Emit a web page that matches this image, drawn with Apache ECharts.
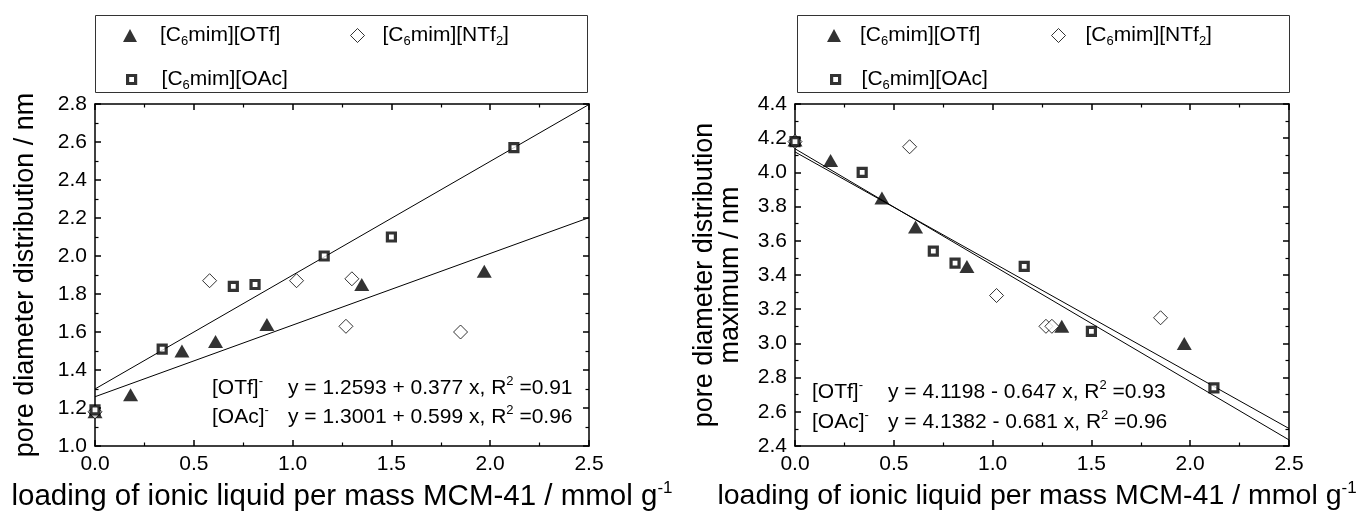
<!DOCTYPE html>
<html>
<head>
<meta charset="utf-8">
<script src="https://cdn.jsdelivr.net/npm/echarts@6/dist/echarts.min.js"></script>
<style>html,body{margin:0;padding:0;background:#fff}#c{width:1362px;height:514px}</style>
</head>
<body>
<div id="c"></div>
<script>
// ---------- data ----------
const seriesNames = ['[C6mim][OTf]', '[C6mim][NTf2]', '[C6mim][OAc]'];
const xTicks = ['0.0', '0.5', '1.0', '1.5', '2.0', '2.5'];

// left chart: pore diameter distribution / nm
const leftOTf  = [[0, 1.18], [0.18, 1.27], [0.44, 1.50], [0.61, 1.55], [0.87, 1.64], [1.35, 1.85], [1.97, 1.92]];
const leftNTf2 = [[0, 1.18], [0.58, 1.87], [1.02, 1.87], [1.27, 1.63], [1.30, 1.88], [1.85, 1.60]];
const leftOAc  = [[0, 1.19], [0.34, 1.51], [0.70, 1.84], [0.81, 1.85], [1.16, 2.00], [1.50, 2.10], [2.12, 2.57]];
const leftFitOTf = [[0, 1.2593], [2.5, 2.2018]];
const leftFitOAc = [[0, 1.3001], [2.5, 2.7976]];

// right chart: pore diameter distribution maximum / nm
const rightOTf  = [[0, 4.19], [0.18, 4.07], [0.44, 3.85], [0.61, 3.68], [0.87, 3.45], [1.35, 3.10], [1.97, 3.00]];
const rightNTf2 = [[0, 4.18], [0.58, 4.15], [1.02, 3.28], [1.27, 3.10], [1.30, 3.10], [1.85, 3.15]];
const rightOAc  = [[0, 4.18], [0.34, 4.00], [0.70, 3.54], [0.81, 3.47], [1.16, 3.45], [1.50, 3.07], [2.12, 2.74]];
const rightFitOTf = [[0, 4.1198], [2.5, 2.5023]];
const rightFitOAc = [[0, 4.1382], [2.5, 2.4357]];

// ---------- chart ----------
const FONT = '"Liberation Sans", Arial, sans-serif';
const chart = echarts.init(document.getElementById('c'), null, {renderer: 'canvas'});

const richCommon = {
  sub: {fontSize: 13, fontFamily: FONT, color: '#000', padding: [12, 0, 0, 0]},
  sup: {fontSize: 13, fontFamily: FONT, color: '#000', padding: [0, 0, 13, 0]}
};
const richTitle = {
  sup: {fontSize: 17, fontFamily: FONT, color: '#000', padding: [0, 0, 16, 0]}
};
const legendLabel = {
  '[C6mim][OTf]': '[C{sub|6}mim][OTf]',
  '[C6mim][NTf2]': '[C{sub|6}mim][NTf{sub|2}]',
  '[C6mim][OAc]': '[C{sub|6}mim][OAc]'
};

function xAxes(gridIndex, titlePad, titleSize) {
  const common = {
    type: 'value', gridIndex, min: 0, max: 2.5, interval: 0.5,
    axisLine: {show: true, onZero: false, lineStyle: {color: '#000', width: 1.5}},
    axisTick: {show: true, inside: true, length: 6, lineStyle: {color: '#000', width: 1.5}},
    minorTick: {show: true, splitNumber: 2, length: 3.5, lineStyle: {color: '#000', width: 1.2}},
    splitLine: {show: false}
  };
  return [
    Object.assign({}, common, {
      position: 'bottom',
      axisLabel: {show: true, fontSize: 21, fontFamily: FONT, color: '#000', margin: 8,
        formatter: v => xTicks[Math.round(v / 0.5)] ?? v.toFixed(1)},
      name: 'loading of ionic liquid per mass MCM-41 / mmol g{sup|-1}',
      nameLocation: 'middle', nameGap: 33,
      nameTextStyle: {fontSize: titleSize, fontFamily: FONT, color: '#000', rich: richTitle, padding: titlePad}
    }),
    Object.assign({}, common, {position: 'top', axisLabel: {show: false}})
  ];
}
function yAxes(gridIndex, min, max, name, nameGap, lineHeight) {
  const common = {
    type: 'value', gridIndex, min, max, interval: 0.2,
    axisLine: {show: true, onZero: false, lineStyle: {color: '#000', width: 1.5}},
    axisTick: {show: true, inside: true, length: 6, lineStyle: {color: '#000', width: 1.5}},
    minorTick: {show: true, splitNumber: 2, length: 3.5, lineStyle: {color: '#000', width: 1.2}},
    splitLine: {show: false}
  };
  return [
    Object.assign({}, common, {
      position: 'left',
      axisLabel: {show: true, fontSize: 21, fontFamily: FONT, color: '#000', margin: 8,
        formatter: v => v.toFixed(1)},
      name, nameLocation: 'middle', nameGap,
      nameTextStyle: {fontSize: 27, fontFamily: FONT, color: '#000', lineHeight}
    }),
    Object.assign({}, common, {position: 'right', axisLabel: {show: false}})
  ];
}

function scatter(name, data, xi, yi) {
  const styles = {
    '[C6mim][OTf]':  {symbol: 'triangle', symbolSize: [15, 13], itemStyle: {color: '#000'}},
    '[C6mim][NTf2]': {symbol: 'diamond', symbolSize: 14, itemStyle: {color: '#fff', borderColor: '#000', borderWidth: 1}},
    '[C6mim][OAc]':  {symbol: 'rect', symbolSize: 8, itemStyle: {color: '#fff', borderColor: '#000', borderWidth: 3.2}}
  };
  return Object.assign({type: 'scatter', name, data, xAxisIndex: xi, yAxisIndex: yi, z: 3,
    clip: false, emphasis: {disabled: true}}, styles[name]);
}
function fit(name, data, xi, yi) {
  return {type: 'line', name, data, xAxisIndex: xi, yAxisIndex: yi, symbol: 'none', silent: true,
    lineStyle: {color: '#000', width: 1}, z: 2, animation: false};
}

function legend(name, left, top, textPad, icon) {
  const st = {
    '[C6mim][OTf]':  {color: '#000', borderWidth: 0},
    '[C6mim][NTf2]': {color: '#fff', borderColor: '#000', borderWidth: 1},
    '[C6mim][OAc]':  {color: '#fff', borderColor: '#000', borderWidth: 3.2}
  }[name];
  return {
    data: [{name, icon}], left, top, padding: 0, orient: 'horizontal',
    itemWidth: icon === 'rect' ? 8 : 14, itemHeight: icon === 'rect' ? 8 : (icon === 'triangle' ? 13 : 14),
    itemStyle: st, selectedMode: false,
    formatter: n => legendLabel[n],
    textStyle: {fontSize: 21, fontFamily: FONT, color: '#000', padding: [0, 0, 0, textPad], rich: richCommon}
  };
}

function annot(x, y, text) {
  return {type: 'text', x, y, silent: true,
    style: {text, font: '21px ' + FONT, fill: '#000', verticalAlign: 'middle', rich: richCommon}};
}

const option = {
  animation: false,
  backgroundColor: '#fff',
  grid: [
    {left: 95, top: 104, width: 494, height: 342, containLabel: false, outerBoundsMode: 'none'},
    {left: 795, top: 104, width: 494, height: 342, containLabel: false, outerBoundsMode: 'none'}
  ],
  xAxis: [...xAxes(0, [0, 0, 0, 0], 29.5), ...xAxes(1, [0, 10, 0, 0], 28.5)],
  yAxis: [
    ...yAxes(0, 1.0, 2.8, 'pore diameter distribution / nm', 54, 30),
    ...yAxes(1, 2.4, 4.4, 'pore diameter distribution\nmaximum / nm', 51, 26)
  ],
  legend: [
    legend('[C6mim][OTf]', 123, 25, 18, 'triangle'),
    legend('[C6mim][NTf2]', 350, 25, 13, 'diamond'),
    legend('[C6mim][OAc]', 126, 69, 21, 'rect'),
    legend('[C6mim][OTf]', 827, 25, 14, 'triangle'),
    legend('[C6mim][NTf2]', 1051, 25, 15, 'diamond'),
    legend('[C6mim][OAc]', 830, 69, 17, 'rect')
  ],
  graphic: [
    {type: 'rect', silent: true, shape: {x: 95.5, y: 15.5, width: 492, height: 77}, style: {fill: 'none', stroke: '#333', lineWidth: 1}},
    {type: 'rect', silent: true, shape: {x: 797.5, y: 15.5, width: 492, height: 77}, style: {fill: 'none', stroke: '#333', lineWidth: 1}},
    annot(212, 388, '[OTf]{sup|-}'),
    annot(288, 388, 'y = 1.2593 + 0.377 x, R{sup|2} =0.91'),
    annot(212, 417, '[OAc]{sup|-}'),
    annot(288, 417, 'y = 1.3001 + 0.599 x, R{sup|2} =0.96'),
    annot(812, 392, '[OTf]{sup|-}'),
    annot(888, 392, 'y = 4.1198 - 0.647 x, R{sup|2} =0.93'),
    annot(812, 422, '[OAc]{sup|-}'),
    annot(888, 422, 'y = 4.1382 - 0.681 x, R{sup|2} =0.96')
  ],
  series: [
    fit('fitOTfL', leftFitOTf, 0, 0),
    fit('fitOAcL', leftFitOAc, 0, 0),
    scatter(seriesNames[0], leftOTf, 0, 0),
    scatter(seriesNames[1], leftNTf2, 0, 0),
    scatter(seriesNames[2], leftOAc, 0, 0),
    fit('fitOTfR', rightFitOTf, 2, 2),
    fit('fitOAcR', rightFitOAc, 2, 2),
    scatter(seriesNames[0], rightOTf, 2, 2),
    scatter(seriesNames[1], rightNTf2, 2, 2),
    scatter(seriesNames[2], rightOAc, 2, 2)
  ]
};
chart.setOption(option);
</script>
</body>
</html>
